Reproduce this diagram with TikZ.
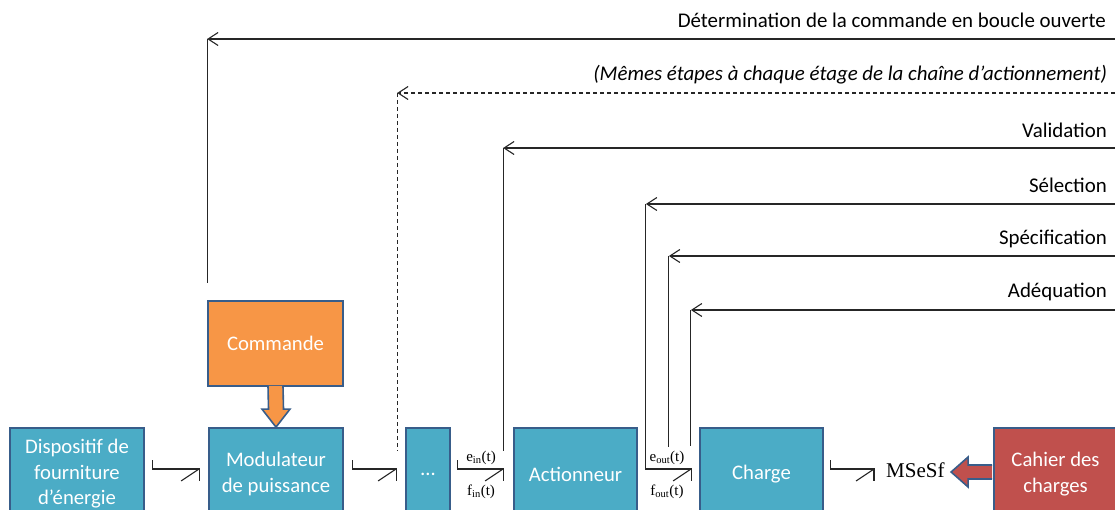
\documentclass[tikz,border=0pt]{standalone}
\usepackage{fontspec}
\newfontfamily\carl{Carlito}
\newfontfamily\tnr{Liberation Serif}
\usetikzlibrary{arrows.meta,calc}
\definecolor{boxblue}{HTML}{4BACC6}
\definecolor{boxline}{HTML}{385D8A}
\definecolor{cmdorange}{HTML}{F79646}
\definecolor{cdcred}{HTML}{C0504D}
\definecolor{linegray}{HTML}{262626}
\newcommand\bondlink[4]{%
  \coordinate (bs) at ([xshift=#3pt,yshift=5pt]#1.east);
  \coordinate (be) at ([xshift=-#4pt]#2.west);
  \draw[bondline] ([yshift=9pt]bs) -- (bs) -- (be |- bs) -- ++(0,12);
  \draw[bondline] (be |- bs) -- ++(-18,12);
}
\begin{document}
\begin{tikzpicture}[x=1pt,y=-1pt,
  blk/.style={draw=boxline, line width=1.8pt, align=center, text=white,
    font=\carl\fontsize{20.7}{25.5}\selectfont, inner sep=0pt},
  bluebox/.style={blk, fill=boxblue},
  bondline/.style={draw=linegray, line width=1.1pt},
  fb/.style={draw=linegray, line width=1.1pt},
  fbarrow/.style={fb, -{Straight Barb[length=10pt,width=13pt]}},
  lbl/.style={font=\carl\fontsize{20.9}{24}\selectfont, anchor=east, inner sep=0pt},
  sig/.style={font=\tnr\fontsize{15}{15}\selectfont, inner sep=0pt}
]
\useasboundingbox (0,0) rectangle (1115,510);
\clip (0,0) rectangle (1115,510);

% boxes
\node[bluebox, minimum width=134pt, minimum height=92pt] (disp) at (77,474) {Dispositif de\\fourniture\\d’énergie};
\node[bluebox, minimum width=134pt, minimum height=92pt] (modul) at (276,474) {Modulateur\\de puissance};
\node[bluebox, minimum width=44pt, minimum height=92pt] (dots) at (428,474) {…};
\node[bluebox, minimum width=123pt, minimum height=92pt] (act) at (575.5,474) {Actionneur};
\node[bluebox, minimum width=123pt, minimum height=92pt] (charge) at (761.5,474) {Charge};
\node[blk, fill=cdcred, minimum width=123pt, minimum height=92pt] (cdc) at (1055.5,474) {Cahier des\\charges};
\node[blk, fill=cmdorange, minimum width=135pt, minimum height=85pt] (cmd) at (275.5,343.5) {Commande};
\node[font=\tnr\fontsize{21}{21}\selectfont, inner sep=0pt, anchor=west] (mses) at (886,470) {MSeSf};

% block arrow Commande -> Modulateur
\draw[fill=cmdorange, draw=boxline, line width=1.6pt, line join=miter]
  ([xshift=-7.5pt,yshift=1pt]cmd.south) -- ([xshift=-7.5pt,yshift=18pt]modul.north)
  -- ([xshift=-14pt,yshift=18pt]modul.north) -- (modul.north)
  -- ([xshift=14pt,yshift=18pt]modul.north) -- ([xshift=7.5pt,yshift=18pt]modul.north)
  -- ([xshift=7.5pt,yshift=1pt]cmd.south);

% block arrow Cahier -> MSeSf
\draw[fill=cdcred, draw=boxline, line width=1.6pt, line join=miter]
  ([xshift=-1pt,yshift=9pt]cdc.west) -- ([xshift=-25pt,yshift=9pt]cdc.west)
  -- ([xshift=-25pt,yshift=17pt]cdc.west) -- ([xshift=-42pt,yshift=2pt]cdc.west)
  -- ([xshift=-25pt,yshift=-13pt]cdc.west) -- ([xshift=-25pt,yshift=-5pt]cdc.west)
  -- ([xshift=-1pt,yshift=-5pt]cdc.west);

% power bonds
\bondlink{disp}{modul}{8}{9}
\bondlink{modul}{dots}{9}{9}
\bondlink{dots}{act}{7}{10}
\bondlink{act}{charge}{8}{8}
\bondlink{charge}{mses}{7}{12}

% bond labels
\node[sig] (ein) at (481,458) {e\textsubscript{in}(t)};
\node[sig] (fin) at (481,492) {f\textsubscript{in}(t)};
\node[sig] (eout) at (667,458) {e\textsubscript{out}(t)};
\node[sig] (fout) at (667,492) {f\textsubscript{out}(t)};

% feedback lines
\coordinate (r1) at (1115,39);
\coordinate (r2) at (1115,93);
\coordinate (r3) at (1115,148);
\coordinate (r4) at (1115,204);
\coordinate (r5) at (1115,256);
\coordinate (r6) at (1115,310);

\coordinate (c1) at (cmd.north west |- r1);
\draw[fbarrow] (r1) -- (c1);
\draw[fb] (c1) -- ([yshift=17pt]cmd.north west);
\node[lbl] (t1) at (1106,20) {Détermination de la commande en boucle ouverte};

\coordinate (c2) at ([xshift=-8pt]dots.west |- r2);
\draw[fbarrow, dash pattern=on 4pt off 3pt] (r2) -- (c2);
\draw[fb, dash pattern=on 4pt off 3pt] (c2) -- ([xshift=-8pt,yshift=-24pt]dots.north west);
\node[lbl, font=\carl\itshape\fontsize{20.9}{24}\selectfont] (t2) at (1107,75) {(Mêmes étapes à chaque étage de la chaîne d’actionnement)};

\coordinate (c3) at ([xshift=-10pt]act.west |- r3);
\draw[fbarrow] (r3) -- (c3);
\draw[fb] (c3) -- ([xshift=-10pt,yshift=-24pt]act.north west);
\node[lbl] (t3) at (1107,130) {Validation};

\coordinate (c4) at ([xshift=8pt]act.east |- r4);
\draw[fb] (c4) -- ([xshift=8pt,yshift=5pt]act.east);
\draw[fbarrow] (r4) -- (c4);
\node[lbl] (t4) at (1107,185) {Sélection};

\coordinate (c5) at ([xshift=31pt]act.east |- r5);
\draw[fbarrow] (r5) -- (c5);
\draw[fb] (c5) -- ([xshift=31pt,yshift=-20pt]act.north east);
\node[lbl] (t5) at (1107,239) {Spécification};

\coordinate (c6) at ([xshift=53pt]act.east |- r6);
\draw[fbarrow] (r6) -- (c6);
\draw[fb] (c6) -- ([xshift=53pt,yshift=-19pt]act.north east);
\node[lbl] (t6) at (1107,292) {Adéquation};
\end{tikzpicture}
\end{document}
